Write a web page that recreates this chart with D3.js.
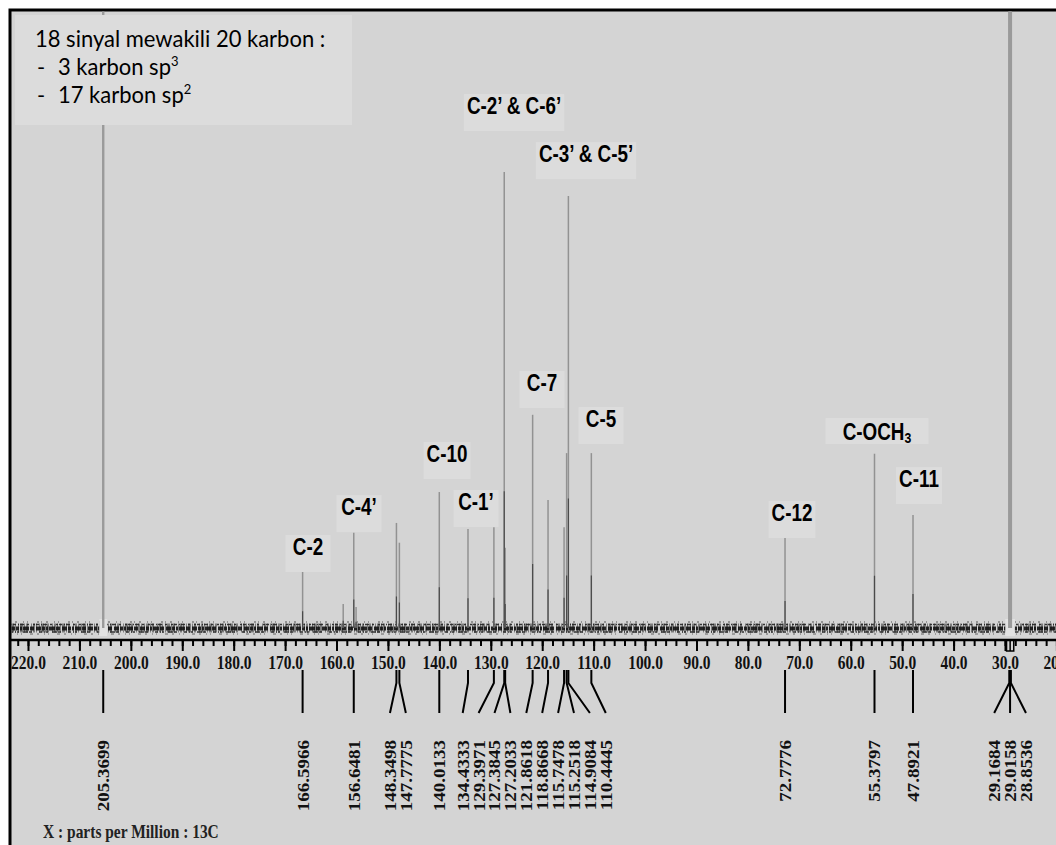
<!DOCTYPE html>
<html lang="en">
<head>
  <meta charset="UTF-8" />
  <title>13C NMR Spectrum</title>
  <script src="https://cdn.jsdelivr.net/npm/d3@7"></script>
  <style>
body { margin: 0; background: #fff; }
svg { display: block; }
.axis-label { font-family: 'Liberation Serif', serif; font-weight: bold; font-size: 18px; fill: #111; }
.peak-value { font-family: 'Liberation Serif', serif; font-weight: bold; font-size: 17px; fill: #111; }
.carbon { font-family: 'Liberation Sans', Arial, sans-serif; font-weight: bold; font-size: 23px; fill: #000; }
.note { font-family: Lato, 'Open Sans', sans-serif; font-size: 22px; fill: #000; }
.unit { font-family: 'Liberation Serif', serif; font-weight: bold; font-size: 18px; fill: #222; }
  </style>
</head>
<body>
<div id="chart"></div>
<script>
// --- Spectrum peaks: chemical shift (ppm) and relative height ---
const peakPpm = [205.3699, 166.5966, 158.7, 156.6481, 156.2, 148.3498, 147.7775, 140.0133,
  134.4333, 129.3971, 127.3845, 127.2033, 121.8618, 118.8668, 115.7478, 115.2518,
  114.9084, 110.4445, 72.7776, 55.3797, 47.8921, 29.1684, 29.0158, 28.8536];
const peakHeight = [105, 9.1, 3.9, 15.4, 3.4, 17.0, 13.8, 22.0,
  16.0, 16.3, 73.8, 13.0, 34.5, 20.7, 16.3, 28.3,
  69.9, 28.3, 14.6, 28.2, 18.3, 105, 105, 105];

// --- Picked peak list printed below the axis ---
const pickedPeaks = ["205.3699", "166.5966", "156.6481", "148.3498", "147.7775", "140.0133",
  "134.4333", "129.3971", "127.3845", "127.2033", "121.8618", "118.8668",
  "115.7478", "115.2518", "114.9084", "110.4445", "72.7776", "55.3797",
  "47.8921", "29.1684", "29.0158", "28.8536"];

// --- Carbon assignments: label, shift of label centre, height of label box bottom ---
const carbonLabels = ["C-2", "C-4’", "C-10", "C-1’", "C-2’ & C-6’", "C-7", "C-3’ & C-5’", "C-5", "C-12", "C-OCH", "C-11"];
const carbonSub    = ["", "", "", "", "", "", "", "", "", "3", ""];
const carbonPpm    = [165.55, 155.63, 138.51, 132.87, 125.48, 120.04, 111.48, 108.56, 71.42, 54.89, 46.72];
const carbonLevel  = [9.06, 15.53, 24.11, 16.34, 80.42, 35.6, 72.65, 29.77, 14.56, 29.77, 20.06];

// --- Axis ticks ---
const majorTicks = [220, 210, 200, 190, 180, 170, 160, 150, 140, 130, 120, 110, 100, 90, 80, 70, 60, 50, 40, 30, 20];
const minorTicks = d3.range(222, 19, -2);

const noteLines = ["18 sinyal mewakili 20 karbon :", "3 karbon sp", "17 karbon sp"];
const noteSup = ["", "3", "2"];

const W = 1056, H = 845;
const svg = d3.select("#chart").append("svg").attr("width", W).attr("height", H);

const x = d3.scaleLinear().domain([220, 30]).range([28, 1005]);
const y = d3.scaleLinear().domain([0, 100]).range([628, 10]);
const axisY = 640;

// frame + background
svg.append("rect").attr("x", 10).attr("y", 10).attr("width", 1100).attr("height", 900)
  .attr("fill", "#d4d4d4").attr("stroke", "#000").attr("stroke-width", 3);

svg.append("clipPath").attr("id", "plotclip")
  .append("rect").attr("x", 11.5).attr("y", 11.5).attr("width", 1100).attr("height", 900);

const plot = svg.append("g").attr("clip-path", "url(#plotclip)");

// --- noise texture along the baseline (pure styling) ---
const noise = [
  { dy: 0, w: 9, c: "#333", o: 0.55, dash: "1 1 2 1 1 2 1 1 3 1 1 1 2 3" },
  { dy: 0.5, w: 4, c: "#111", o: 0.9, dash: "5 1 3 1 2 1 6 1 4 2" },
  { dy: -3.5, w: 1.6, c: "#222", o: 0.9, dash: "2 1 3 2 1 1 4 3 2 4" },
  { dy: 4, w: 1.6, c: "#222", o: 0.9, dash: "3 2 1 1 2 4 5 1 3 7" },
  { dy: -6, w: 1, c: "#333", o: 0.8, dash: "1 4 2 6 1 3 1 9 2 2" },
  { dy: 6, w: 1, c: "#333", o: 0.7, dash: "2 5 1 3 1 8 3 4" }
];
noise.forEach(n => {
  plot.append("line")
    .attr("x1", 10).attr("x2", W)
    .attr("y1", y(0) + n.dy).attr("y2", y(0) + n.dy)
    .attr("stroke", n.c).attr("stroke-width", n.w).attr("stroke-opacity", n.o)
    .attr("stroke-dasharray", n.dash);
});

// --- peaks ---
const peaks = peakPpm.map((p, i) => ({ ppm: p, h: peakHeight[i] }));

// light base under the off-scale (broad) peaks
plot.selectAll(".base").data(peaks.filter(d => d.h > 100)).join("rect")
  .attr("x", d => x(d.ppm) - 4).attr("y", y(0) - 9)
  .attr("width", 8).attr("height", 17)
  .attr("fill", "#e2e2e2");

plot.selectAll(".peak").data(peaks).join("line")
  .attr("class", "peak")
  .attr("x1", d => x(d.ppm)).attr("x2", d => x(d.ppm))
  .attr("y1", y(0)).attr("y2", d => y(d.h))
  .attr("stroke", d => d.h > 100 ? "#9a9a9a" : "#929292")
  .attr("stroke-width", d => d.h > 100 ? 2.4 : 1.5);

plot.selectAll(".peak-foot").data(peaks.filter(d => d.h <= 100)).join("line")
  .attr("x1", d => x(d.ppm)).attr("x2", d => x(d.ppm))
  .attr("y1", y(0)).attr("y2", d => y(d.h * 0.3))
  .attr("stroke", "#4a4a4a").attr("stroke-width", 1.2);

// --- x axis ---
svg.append("line").attr("x1", 10).attr("x2", W).attr("y1", axisY).attr("y2", axisY)
  .attr("stroke", "#000").attr("stroke-width", 2.5);

const minorAxis = svg.append("g").attr("transform", `translate(0,${axisY})`)
  .call(d3.axisBottom(x).tickValues(minorTicks).tickSize(6).tickFormat(""));
const majorAxis = svg.append("g").attr("transform", `translate(0,${axisY})`)
  .call(d3.axisBottom(x).tickValues(majorTicks).tickSize(11).tickFormat(d3.format(".1f")));

[minorAxis, majorAxis].forEach(a => {
  a.select(".domain").remove();
  a.selectAll(".tick line").attr("stroke", "#000").attr("stroke-width", 2);
});
majorAxis.selectAll(".tick text")
  .attr("class", "axis-label")
  .attr("y", 29).attr("dy", null)
  .attr("transform", "scale(0.86,1)")
  .attr("font-family", null).attr("font-size", null);

// small integration bracket under the solvent multiplet
svg.append("path")
  .attr("d", `M${x(29.7)},${axisY} V${axisY + 11} H${x(28.3)} V${axisY} M${x(29.0)},${axisY} V${axisY + 11}`)
  .attr("fill", "none").attr("stroke", "#000").attr("stroke-width", 1.5);

// --- picked peak list: sticks and rotated values ---
function layoutLabels(xs, gap) {
  // merge labels that would overlap into groups centred on their peaks
  let groups = xs.map(v => ({ members: [v], center: v }));
  let merged = true;
  while (merged) {
    merged = false;
    for (let i = 0; i < groups.length - 1; i++) {
      const a = groups[i], b = groups[i + 1];
      const aRight = a.center + (a.members.length - 1) * gap / 2;
      const bLeft = b.center - (b.members.length - 1) * gap / 2;
      if (bLeft - aRight < gap) {
        const m = a.members.concat(b.members);
        groups.splice(i, 2, { members: m, center: d3.mean(m) });
        merged = true;
        break;
      }
    }
  }
  return groups.flatMap(g => g.members.map((_, k) => g.center + (k - (g.members.length - 1) / 2) * gap));
}

const pickedX = pickedPeaks.map(s => x(+s));
const labelX = layoutLabels(pickedX, 15.9);

svg.selectAll(".stick").data(pickedPeaks).join("path")
  .attr("d", (d, i) => `M${pickedX[i]},670 V683 L${labelX[i]},713`)
  .attr("fill", "none").attr("stroke", "#000").attr("stroke-width", 2);

svg.selectAll(".pv").data(pickedPeaks).join("text")
  .attr("class", "peak-value")
  .attr("transform", (d, i) => `translate(${labelX[i]},740) rotate(-90) scale(1.12,1)`)
  .attr("text-anchor", "end")
  .attr("dy", "0.35em")
  .text(d => d);

// --- carbon assignment labels ---
carbonLabels.forEach((t, i) => {
  const cx = x(carbonPpm[i]);
  const bottom = y(carbonLevel[i]);
  const hasSub = carbonSub[i] !== "";
  const g = svg.append("g");
  const box = g.append("rect").attr("fill", "#dcdcdc");
  const baseline = hasSub ? bottom - 4 : bottom - 17;
  const txt = g.append("text").attr("class", "carbon")
    .attr("transform", `translate(${cx},${baseline}) scale(0.82,1)`)
    .attr("text-anchor", "middle");
  txt.append("tspan").text(t);
  if (hasSub) txt.append("tspan").attr("font-size", "15px").attr("dy", "3").text(carbonSub[i]);
  const tw = txt.node().getBBox().width * 0.82;
  const bw = hasSub ? tw + 34 : Math.max(45, tw + 6);
  const bh = hasSub ? 26 : 37;
  box.attr("x", cx - bw / 2).attr("y", bottom - bh).attr("width", bw).attr("height", bh);
});

// --- note box, top left ---
svg.append("rect").attr("x", 15).attr("y", 15).attr("width", 337).attr("height", 110)
  .attr("fill", "#dcdcdc");
const noteBase = [47, 75, 103];
noteLines.forEach((t, i) => {
  if (i > 0) {
    svg.append("text").attr("class", "note").attr("x", 37).attr("y", noteBase[i]).text("-");
  }
  const tx = svg.append("text").attr("class", "note")
    .attr("transform", `translate(${i === 0 ? 35 : 58},${noteBase[i]}) scale(1,1.08)`);
  tx.append("tspan").text(t);
  if (noteSup[i]) tx.append("tspan").attr("font-size", "13px").attr("dy", "-8").text(noteSup[i]);
});

// --- unit caption ---
svg.append("text").attr("class", "unit")
  .attr("transform", "translate(43,838) scale(0.86,1)")
  .text("X : parts per Million : 13C");
</script>
</body>
</html>
